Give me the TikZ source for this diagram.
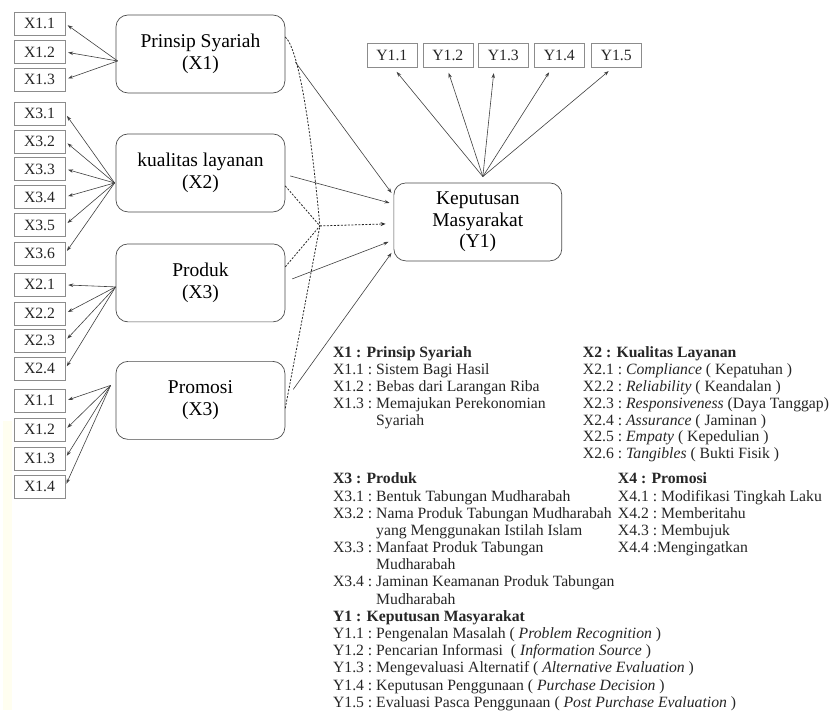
\documentclass[tikz,border=0pt]{standalone}
\usepackage{fontspec}
\setmainfont{Liberation Serif}
\usetikzlibrary{calc,arrows.meta}

\tikzset{
  konstruk/.style={draw=black!70, line width=0.7pt, rounded corners=12pt,
    minimum width=169pt, minimum height=78pt, align=center,
    font=\fontsize{19.5}{21.5}\selectfont},
  indikator/.style={draw=black!45, line width=0.5pt, minimum width=51pt,
    minimum height=23pt, inner sep=0pt, text=black!85,
    font=\fontsize{15.7}{17}\selectfont},
  panah/.style={draw=black!75, line width=0.6pt,
    -{Stealth[length=5pt,width=3.5pt]}, shorten >=3pt},
  putus/.style={draw=black!85, line width=0.8pt, dash pattern=on 2pt off 1.5pt},
  ket/.style={anchor=base west, inner sep=0pt, text=black!85,
    font=\fontsize{15.7}{16.8}\selectfont},
}

\begin{document}
\begin{tikzpicture}[x=1pt, y=-1pt]
\fill[white] (0,0) rectangle (829,713);
\fill[yellow!6] (3,421) rectangle (12,710);

\node[konstruk] (ps) at (200.5,54) {Prinsip Syariah\\(X1)};
\node[konstruk] (kl) at (200.5,173) {kualitas layanan\\(X2)};
\node[konstruk] (pr) at (200.5,283) {Produk\\(X3)};
\node[konstruk] (pm) at (200.5,400.5) {Promosi\\(X3)};
\node[konstruk, minimum width=168pt] (kp) at (478,222) {Keputusan\\Masyarakat\\(Y1)};

\coordinate (psL) at ($(ps.west)+(2,7)$);
\coordinate (klL) at ($(kl.west)+(-1,10)$);
\coordinate (prL) at ($(pr.west)+(0,4)$);
\coordinate (pmL) at ($(pm.west)+(-5,-15)$);
\coordinate (kpT) at ($(kp.north)+(5,-6)$);

\foreach \lbl/\yy [count=\i] in {X1.1/23.5, X1.2/52, X1.3/79.5}{
  \node[indikator] (a\i) at (39.5,\yy) {\lbl};
  \draw[panah] (psL) -- (a\i.east);
}
\foreach \lbl/\yy [count=\i] in {X3.1/113.5, X3.2/141.5, X3.3/169, X3.4/197, X3.5/225, X3.6/253.5}{
  \node[indikator] (b\i) at (39.5,\yy) {\lbl};
  \draw[panah] (klL) -- (b\i.east);
}
\foreach \lbl/\yy [count=\i] in {X2.1/285, X2.2/313.5, X2.3/341, X2.4/369}{
  \node[indikator] (c\i) at (39.5,\yy) {\lbl};
  \draw[panah] (prL) -- (c\i.east);
}
\foreach \lbl/\yy [count=\i] in {X1.1/401, X1.2/430, X1.3/458.5, X1.4/486.5}{
  \node[indikator] (d\i) at (39.5,\yy) {\lbl};
  \draw[panah] (pmL) -- (d\i.east);
}
\foreach \lbl/\xx/\dx [count=\i] in {Y1.1/392/1, Y1.2/448/-1, Y1.3/503.5/-9, Y1.4/559.5/-7, Y1.5/616.5/-3}{
  \node[indikator, minimum width=50pt, minimum height=24pt] (y\i) at (\xx,55) {\lbl};
  \draw[panah, shorten >=6pt] (kpT) -- ($(y\i.south)+(\dx,0)$);
}

\draw[panah, shorten >=0pt] ($(ps.east)+(10,8)$) -- ($(kp.west)+(-2,-29)$);
\draw[panah, shorten >=0pt] ($(kl.east)+(5,3)$) -- ($(kp.west)+(-4,-19)$);
\draw[panah, shorten >=0pt] ($(pr.east)+(7,-4)$) -- ($(kp.west)+(-5,20)$);
\draw[panah, shorten >=0pt] ($(pm.east)+(8,-11)$) -- ($(kp.west)+(-2,31)$);

\coordinate (tg) at (320,226);
\draw[putus] ($(ps.east)+(0,-17)$) .. controls (300,50) and (312,140) .. (tg);
\draw[putus] ($(kl.east)+(0,13)$) -- (tg);
\draw[putus] ($(pr.east)+(0,-16)$) -- (tg);
\draw[putus] ($(pm.east)+(0,8)$) -- (tg);
\draw[putus, -{Stealth[length=5pt,width=4pt]}] (tg) -- ($(kp.west)+(-8,2)$);

\node[ket] (k1) at (333,358) {\begin{tabular}[t]{@{}l@{\ }l@{}}
  \multicolumn{2}{@{}l@{}}{\textbf{X1 : Prinsip Syariah}}\\
  X1.1 :& Sistem Bagi Hasil\\
  X1.2 :& Bebas dari Larangan Riba\\
  X1.3 :& Memajukan Perekonomian\\
  & Syariah
\end{tabular}};
\node[ket] (k2) at (583,358) {\begin{tabular}[t]{@{}l@{\ }l@{}}
  \multicolumn{2}{@{}l@{}}{\textbf{X2 : Kualitas Layanan}}\\
  X2.1 :& \textit{Compliance} ( Kepatuhan )\\
  X2.2 :& \textit{Reliability} ( Keandalan )\\
  X2.3 :& \textit{Responsiveness} (Daya Tanggap)\\
  X2.4 :& \textit{Assurance} ( Jaminan )\\
  X2.5 :& \textit{Empaty} ( Kepedulian )\\
  X2.6 :& \textit{Tangibles} ( Bukti Fisik )
\end{tabular}};
\node[ket, font=\fontsize{15.7}{17.2}\selectfont] (k3) at (333,484) {\begin{tabular}[t]{@{}l@{\ }l@{}}
  \multicolumn{2}{@{}l@{}}{\textbf{X3 : Produk}}\\
  X3.1 :& Bentuk Tabungan Mudharabah\\
  X3.2 :& Nama Produk Tabungan Mudharabah\\
  & yang Menggunakan Istilah Islam\\
  X3.3 :& Manfaat Produk Tabungan\\
  & Mudharabah\\
  X3.4 :& Jaminan Keamanan Produk Tabungan\\
  & Mudharabah\\
  \multicolumn{2}{@{}l@{}}{\textbf{Y1 : Keputusan Masyarakat}}\\
  Y1.1 :& Pengenalan Masalah ( \textit{Problem Recognition} )\\
  Y1.2 :& Pencarian Informasi\ \ ( \textit{Information Source} )\\
  Y1.3 :& Mengevaluasi Alternatif ( \textit{Alternative Evaluation} )\\
  Y1.4 :& Keputusan Penggunaan ( \textit{Purchase Decision} )\\
  Y1.5 :& Evaluasi Pasca Penggunaan ( \textit{Post Purchase Evaluation} )
\end{tabular}};
\node[ket, font=\fontsize{15.7}{17.2}\selectfont] (k4) at (618,484) {\begin{tabular}[t]{@{}l@{\ }l@{}}
  \multicolumn{2}{@{}l@{}}{\textbf{X4 : Promosi}}\\
  X4.1 :& Modifikasi Tingkah Laku\\
  X4.2 :& Memberitahu\\
  X4.3 :& Membujuk\\
  \multicolumn{2}{@{}l@{}}{X4.4 :Mengingatkan}
\end{tabular}};
\end{tikzpicture}
\end{document}
